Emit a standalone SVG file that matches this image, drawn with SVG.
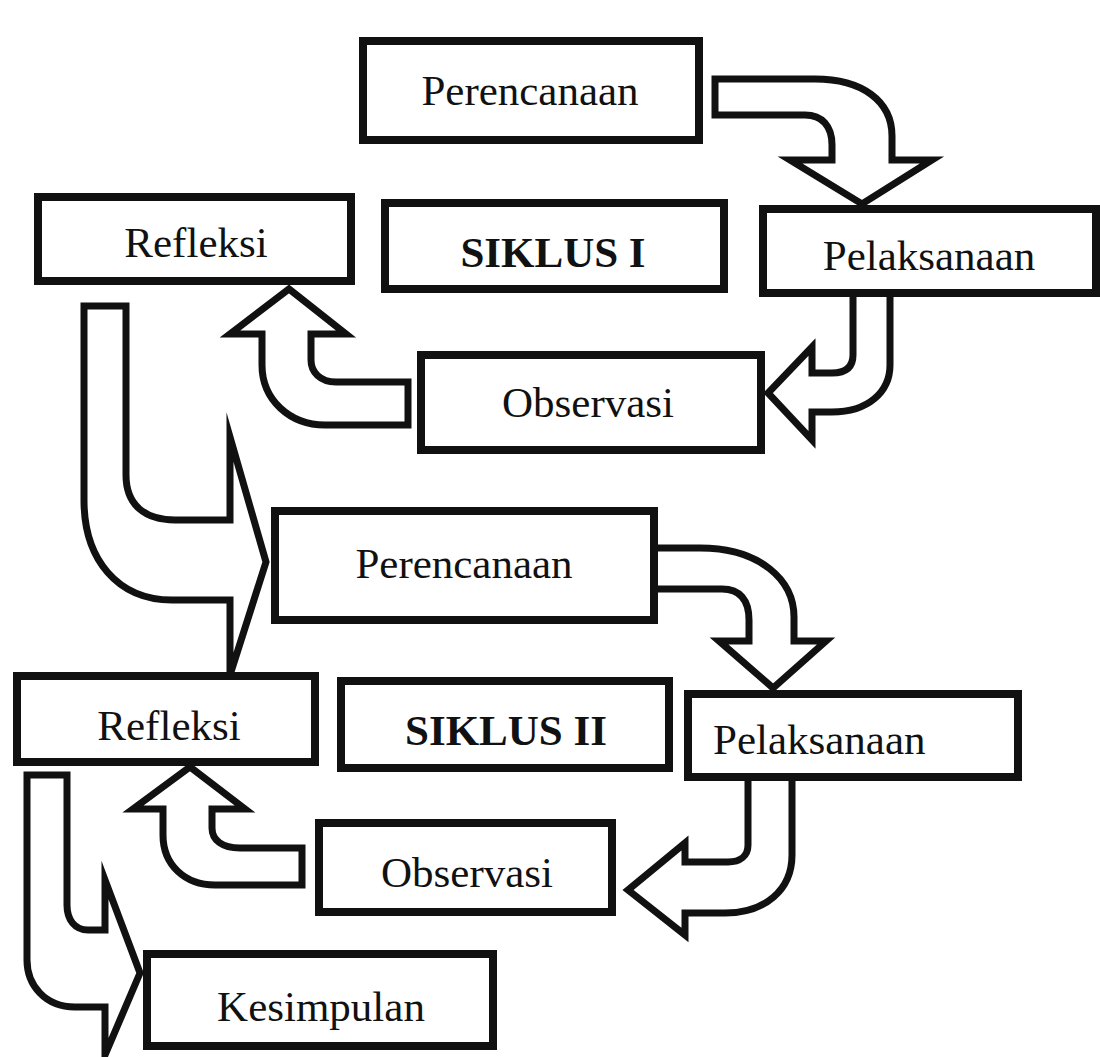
<svg xmlns="http://www.w3.org/2000/svg" width="1100" height="1057" viewBox="0 0 1100 1057">
<style>
.box{fill:#fff;stroke:#111;stroke-width:8}
.arr{fill:#fff;stroke:#111;stroke-width:7;stroke-linejoin:miter;stroke-miterlimit:10}
.t{font-family:"Liberation Serif","Times New Roman",serif;font-size:43px;fill:#111;text-anchor:middle}
.b{font-weight:bold}
</style>
<rect width="1100" height="1057" fill="#fff"/>
<g id="connectors">
<path class="arr" d="M715,79 L815,79 C862,79 892,101 892,136 L892,160 L932,160 L862,204 L790,160 L832,160 L832,145 C832,126 822,115 805,115 L715,115 Z"/>
<path class="arr" d="M853,293 L853,355 C853,368 845,373 832,373 L812,373 L812,347 L768,393 L812,440 L812,412 L832,412 C868,412 890,392 890,365 L890,293 Z"/>
<path class="arr" d="M408,382 L336,382 C320,382 311,372 311,360 L311,334 L346,334 L289,289 L230,334 L262,334 L262,365 C262,400 290,425 325,425 L408,425 Z"/>
<path class="arr" d="M84,306 L126,306 L126,475 C126,505 145,520 175,520 L230,520 L230,437 L266,562 L230,675 L230,600 L172,600 C118,600 84,560 84,500 Z"/>
<path class="arr" d="M654,548 L700,548 C760,548 794,580 794,617 L794,641 L826,641 L773,688 L719,641 L749,641 L749,620 C749,600 740,589 722,589 L654,589 Z"/>
<path class="arr" d="M748,777 L748,845 C748,856 740,862 728,862 L685,862 L685,843 L628,890 L685,935 L685,913 L725,913 C765,913 792,890 792,855 L792,777 Z"/>
<path class="arr" d="M302,848 L240,848 C222,848 212,840 212,828 L212,809 L245,809 L190,767 L133,809 L163,809 L163,835 C163,865 185,885 215,885 L302,885 Z"/>
<path class="arr" d="M27,775 L67,775 L67,905 C67,920 75,930 88,930 L105,930 L105,880 L140,973 L105,1055 L105,1007 L75,1007 C45,1007 27,985 27,960 Z"/>
</g>
<g id="perencanaan1"><rect class="box" x="363" y="41" width="336" height="99"/><text class="t" x="530" y="105">Perencanaan</text></g>
<g id="refleksi1"><rect class="box" x="38" y="197" width="313" height="84"/><text class="t" x="196" y="257">Refleksi</text></g>
<g id="siklus1"><rect class="box" x="385" y="203" width="339" height="86"/><text class="t b" x="553" y="267">SIKLUS I</text></g>
<g id="pelaksanaan1"><rect class="box" x="763" y="209" width="333" height="84"/><text class="t" x="929" y="270">Pelaksanaan</text></g>
<g id="observasi1"><rect class="box" x="421" y="355" width="340" height="95"/><text class="t" x="588" y="417">Observasi</text></g>
<g id="perencanaan2"><rect class="box" x="275" y="511" width="379" height="109"/><text class="t" x="464" y="578">Perencanaan</text></g>
<g id="refleksi2"><rect class="box" x="17" y="676" width="298" height="86"/><text class="t" x="169" y="740">Refleksi</text></g>
<g id="siklus2"><rect class="box" x="341" y="681" width="328" height="87"/><text class="t b" x="506" y="745">SIKLUS II</text></g>
<g id="pelaksanaan2"><rect class="box" x="688" y="694" width="330" height="83"/><text class="t" x="713" y="754" style="text-anchor:start">Pelaksanaan</text></g>
<g id="observasi2"><rect class="box" x="319" y="823" width="293" height="89"/><text class="t" x="467" y="887">Observasi</text></g>
<g id="kesimpulan"><rect class="box" x="147" y="954" width="346" height="92"/><text class="t" x="321" y="1021">Kesimpulan</text></g>
</svg>
